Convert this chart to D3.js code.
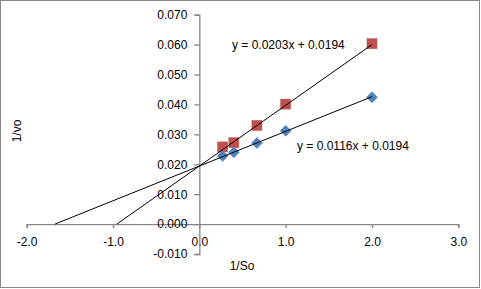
<!DOCTYPE html>
<html>
<head>
<meta charset="utf-8">
<script src="https://cdn.jsdelivr.net/npm/d3@7"></script>
<style>
  html, body { margin: 0; padding: 0; background: #fff; }
  svg { display: block; font-family: "Liberation Sans", Arial, sans-serif; }
</style>
</head>
<body>
<svg id="chart"></svg>
<script>
// Lineweaver-Burk data
const invS = [0.27, 0.4, 0.667, 1.0, 2.0];
const seriesA = [0.0228, 0.0240, 0.0271, 0.0312, 0.0424]; // blue diamonds
const seriesB = [0.0258, 0.0272, 0.0330, 0.0401, 0.0603]; // red squares
const fitA = { slope: 0.0116, intercept: 0.0194, label: 'y = 0.0116x + 0.0194' };
const fitB = { slope: 0.0203, intercept: 0.0194, label: 'y = 0.0203x + 0.0194' };
const xTicks = [-2, -1, 0, 1, 2, 3];
const yTicks = [-0.01, 0, 0.01, 0.02, 0.03, 0.04, 0.05, 0.06, 0.07];

const width = 481, height = 289;
const svg = d3.select('#chart').attr('width', width).attr('height', height);

// outer chart border
svg.append('rect')
  .attr('x', 0.5).attr('y', 0.5)
  .attr('width', width - 2).attr('height', height - 2)
  .attr('fill', '#fff').attr('stroke', '#888').attr('stroke-width', 1);

const x = d3.scaleLinear().domain([-2, 3]).range([26.7, 458.3]);
const y = d3.scaleLinear().domain([-0.01, 0.07]).range([254, 14.7]);

const axisColor = '#868686';

// x axis along y = 0 (plain hyphen for negatives, like Excel)
const xAxis = svg.append('g')
  .attr('transform', `translate(0,${y(0)})`)
  .call(d3.axisBottom(x).tickValues(xTicks).tickFormat(d => d.toFixed(1)).tickSize(4).tickPadding(8));

// y axis along x = 0
const yAxis = svg.append('g')
  .attr('transform', `translate(${x(0)},0)`)
  .call(d3.axisLeft(y).tickValues(yTicks).tickFormat(d => d.toFixed(3)).tickSize(5).tickPadding(7));

[xAxis, yAxis].forEach(g => {
  g.select('.domain').attr('stroke', axisColor).attr('stroke-width', 1.3);
  g.selectAll('.tick line').attr('stroke', axisColor).attr('stroke-width', 1.3);
  g.selectAll('.tick text').attr('fill', '#000').attr('font-size', 12)
    .attr('font-family', '"Liberation Sans", Arial, sans-serif');
});
// x tick labels sit lower, level with the -0.010 label
xAxis.selectAll('.tick text').attr('dy', '0.71em').attr('y', 13);

// red squares
svg.append('g').selectAll('rect')
  .data(invS.map((v, i) => [v, seriesB[i]]))
  .join('rect')
  .attr('x', d => x(d[0]) - 5).attr('y', d => y(d[1]) - 5)
  .attr('width', 10).attr('height', 10)
  .attr('fill', '#C0504D').attr('stroke', '#B8504B').attr('stroke-width', 0.5);

// blue diamonds
svg.append('g').selectAll('path')
  .data(invS.map((v, i) => [v, seriesA[i]]))
  .join('path')
  .attr('transform', d => `translate(${x(d[0])},${y(d[1])})`)
  .attr('d', 'M0,-5.5L5.5,0L0,5.5L-5.5,0Z')
  .attr('fill', '#4F81BD').attr('stroke', '#4A7EBB').attr('stroke-width', 0.5);

// trendlines on top of markers: from the x intercept out to the last point
const lineGen = d3.line().x(d => x(d[0])).y(d => y(d[1]));
[fitA, fitB].forEach(f => {
  const x0 = -f.intercept / f.slope;
  const x1 = d3.max(invS);
  svg.append('path')
    .attr('d', lineGen([[x0, 0], [x1, f.slope * x1 + f.intercept]]))
    .attr('stroke', '#000').attr('stroke-width', 1).attr('fill', 'none');
});

// equation labels
svg.append('text').attr('x', 232).attr('y', 48.5)
  .attr('font-size', 12).attr('fill', '#000').text(fitB.label);
svg.append('text').attr('x', 297).attr('y', 150)
  .attr('font-size', 12).attr('fill', '#000').text(fitA.label);

// axis titles
svg.append('text')
  .attr('x', 242).attr('y', 270)
  .attr('text-anchor', 'middle').attr('font-size', 12).attr('fill', '#000')
  .text('1/So');
svg.append('text')
  .attr('transform', 'translate(21,131) rotate(-90)')
  .attr('text-anchor', 'middle').attr('font-size', 12).attr('fill', '#000')
  .text('1/vo');
</script>
</body>
</html>
